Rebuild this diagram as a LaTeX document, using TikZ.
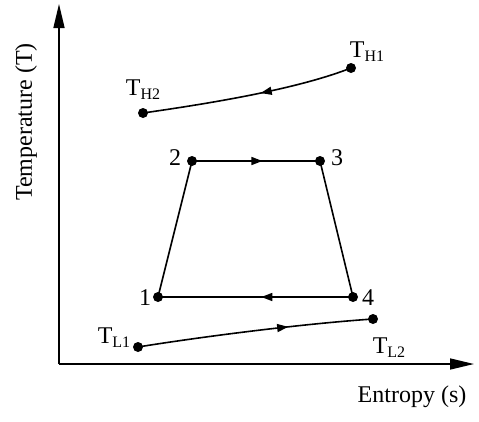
\documentclass[tikz,border=0pt]{standalone}
\usepackage{fontspec}
\setmainfont{Liberation Serif}
\usetikzlibrary{arrows.meta,decorations.markings}
\newcommand{\Tsub}[1]{T\raisebox{-0.35ex}{\fontsize{16}{16}\selectfont #1}}
\tikzset{
  dot/.style={circle,fill=black,inner sep=0pt,minimum size=10pt},
  lbl/.style={inner sep=0pt,font=\fontsize{24}{28}\selectfont},
  ln/.style={line width=1.6pt},
  midarrow/.style={postaction={decorate},decoration={markings,
     mark=at position #1 with {\arrow{Triangle[length=11pt,width=8pt]}}}}
}
\begin{document}
\begin{tikzpicture}[x=1pt,y=-1pt]
\useasboundingbox (0,0) rectangle (479,421);
% axes
\coordinate (O) at (59,364);
\coordinate (Ytop) at (59,4);
\coordinate (Xend) at (474,364);
\draw[ln,-{Triangle[length=24pt,width=11pt]}] (O) -- (Ytop);
\draw[ln,-{Triangle[length=24pt,width=11pt]}] (O) -- (Xend);
% points
\node[dot] (th1) at (351,68) {};
\node[dot] (th2) at (143,113) {};
\node[dot] (p2) at (192,161) {};
\node[dot] (p3) at (320,161) {};
\node[dot] (p1) at (158,297) {};
\node[dot] (p4) at (353,297) {};
\node[dot] (tl1) at (138,347) {};
\node[dot] (tl2) at (373,319) {};
% curves
\draw[ln,midarrow=0.44] (th1.center) .. controls (300,88) and (220,102) .. (th2.center);
\draw[ln,midarrow=0.64] (tl1.center) .. controls (200,337) and (300,324) .. (tl2.center);
% cycle
\draw[ln,midarrow=0.55] (p2.center) -- (p3.center);
\draw[ln] (p3.center) -- (p4.center);
\draw[ln,midarrow=0.47] (p4.center) -- (p1.center);
\draw[ln] (p1.center) -- (p2.center);
% labels
\node[lbl] (lth1) at (367,52) {\Tsub{H1}};
\node[lbl] (lth2) at (143,90) {\Tsub{H2}};
\node[lbl] (ltl1) at (114,338) {\Tsub{L1}};
\node[lbl] (ltl2) at (389,348) {\Tsub{L2}};
\node[lbl] (l2) at (175,158) {2};
\node[lbl] (l3) at (337,158) {3};
\node[lbl] (l1) at (145,298) {1};
\node[lbl] (l4) at (368,298) {4};
\node[lbl] (xl) at (412,397) {Entropy (s)};
\node[lbl,rotate=90] (yl) at (26,122) {Temperature (T)};
\end{tikzpicture}
\end{document}
